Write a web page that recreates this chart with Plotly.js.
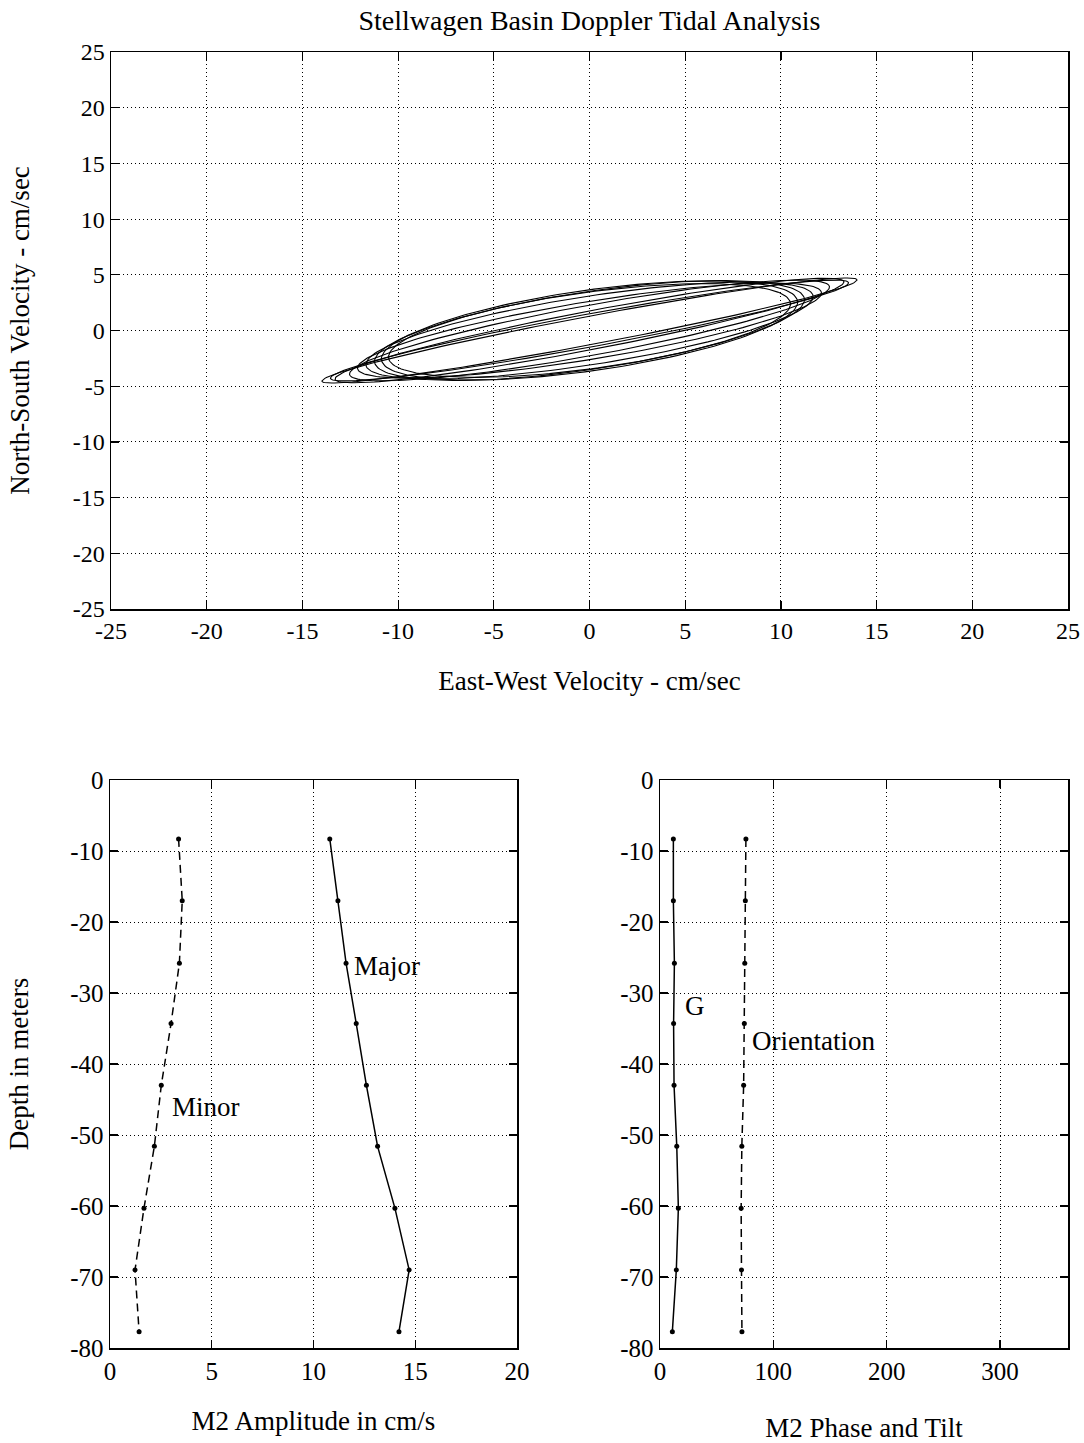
<!DOCTYPE html>
<html>
<head>
<meta charset="utf-8">
<script src="https://cdn.plot.ly/plotly-3.0.1.min.js"></script>
<style>html,body{margin:0;padding:0;background:#fff;}#chart{width:1084px;height:1443px;}</style>
</head>
<body>
<div id="chart"></div>
<script>
// ---- Data ----
const depth = [-8.3, -17.0, -25.8, -34.3, -43.0, -51.6, -60.3, -69.0, -77.7];   // m
const majorAmp = [10.8, 11.2, 11.6, 12.1, 12.6, 13.15, 14.0, 14.7, 14.2];       // cm/s
const minorAmp = [3.37, 3.55, 3.41, 3.0, 2.52, 2.18, 1.67, 1.23, 1.43];         // cm/s
const phaseG = [11.8, 11.8, 12.7, 12.0, 12.4, 14.8, 16.2, 14.4, 10.9];          // deg
const orientation = [75.8, 75.3, 74.8, 74.4, 73.8, 72.2, 71.6, 71.9, 72.3];    // deg from north

const velTicks = [-25, -20, -15, -10, -5, 0, 5, 10, 15, 20, 25];
const depthTicks = [0, -10, -20, -30, -40, -50, -60, -70, -80];
const ampTicks = [0, 5, 10, 15, 20];
const phaseTicks = [0, 100, 200, 300];

// ---- Tidal ellipse for each depth from major, minor, orientation ----
const NPTS = 180;
function ellipseTrace(M, m, orient) {
  const phi = (90 - orient) * Math.PI / 180;
  const xs = [], ys = [];
  for (let k = 0; k <= NPTS; k++) {
    const t = 2 * Math.PI * k / NPTS;
    const u = M * Math.cos(t), v = m * Math.sin(t);
    xs.push(u * Math.cos(phi) - v * Math.sin(phi));
    ys.push(u * Math.sin(phi) + v * Math.cos(phi));
  }
  return {x: xs, y: ys, xaxis: 'x', yaxis: 'y', mode: 'lines',
          line: {color: 'black', width: 1.1}, hoverinfo: 'skip', showlegend: false};
}

const traces = [];
for (let i = 0; i < depth.length; i++) traces.push(ellipseTrace(majorAmp[i], minorAmp[i], orientation[i]));

const mk = {size: 5, color: 'black'};
traces.push({x: majorAmp, y: depth, xaxis: 'x2', yaxis: 'y2', mode: 'lines+markers', name: 'Major',
  line: {color: 'black', width: 1.5}, marker: mk, showlegend: false});
traces.push({x: minorAmp, y: depth, xaxis: 'x2', yaxis: 'y2', mode: 'lines+markers', name: 'Minor',
  line: {color: 'black', width: 1.5, dash: '8px,5px'}, marker: mk, showlegend: false});
traces.push({x: phaseG, y: depth, xaxis: 'x3', yaxis: 'y3', mode: 'lines+markers', name: 'G',
  line: {color: 'black', width: 1.5}, marker: mk, showlegend: false});
traces.push({x: orientation, y: depth, xaxis: 'x3', yaxis: 'y3', mode: 'lines+markers', name: 'Orientation',
  line: {color: 'black', width: 1.5, dash: '8px,5px'}, marker: mk, showlegend: false});

const W = 1084, H = 1443;
const serif = 'Liberation Serif, Times New Roman, serif';
function ax(ticks, size, extra) {
  return Object.assign({
    showline: true, linecolor: 'black', linewidth: 1.5, mirror: 'ticks',
    ticks: 'inside', ticklen: 8, tickcolor: 'black', tickwidth: 1.2,
    showgrid: true, gridcolor: 'black', griddash: '1px,3px', gridwidth: 1,
    zeroline: false, tickmode: 'array', tickvals: ticks, ticktext: ticks.map(String),
    tickfont: {family: serif, size: size, color: 'black'}
  }, extra);
}
const titleFont = {family: serif, size: 27, color: 'black'};
const noteFont = {family: serif, size: 27, color: 'black'};

const layout = {
  width: W, height: H,
  margin: {l: 0, r: 0, t: 0, b: 0},
  paper_bgcolor: 'white', plot_bgcolor: 'white',
  showlegend: false,
  title: {text: 'Stellwagen Basin Doppler Tidal Analysis', font: {family: serif, size: 28, color: 'black'},
          x: 589.5 / W, xanchor: 'center', y: 1 - 20 / H, yanchor: 'middle', xref: 'paper', yref: 'paper'},
  xaxis: ax(velTicks, 24, {domain: [111 / W, 1068 / W], anchor: 'y', range: [-25, 25],
    title: {text: 'East-West Velocity - cm/sec', font: titleFont, standoff: 28}}),
  yaxis: ax(velTicks, 24, {domain: [1 - 609 / H, 1 - 52 / H], anchor: 'x', range: [-25, 25],
    title: {text: 'North-South Velocity - cm/sec', font: titleFont, standoff: 35}}),
  xaxis2: ax(ampTicks, 25, {domain: [110 / W, 517 / W], anchor: 'y2', range: [0, 20],
    title: {text: 'M2 Amplitude in cm/s', font: titleFont, standoff: 27}}),
  yaxis2: ax(depthTicks, 25, {domain: [1 - 1348 / H, 1 - 780 / H], anchor: 'x2', range: [-80, 0],
    title: {text: 'Depth in meters', font: titleFont, standoff: 33}}),
  xaxis3: ax(phaseTicks, 25, {domain: [660 / W, 1068 / W], anchor: 'y3', range: [0, 360],
    title: {text: 'M2 Phase and Tilt', font: titleFont, standoff: 35}}),
  yaxis3: ax(depthTicks, 25, {domain: [1 - 1348 / H, 1 - 780 / H], anchor: 'x3', range: [-80, 0]}),
  annotations: [
    {text: 'Major', x: 11.9, y: -26.2, xref: 'x2', yref: 'y2', xanchor: 'left', yanchor: 'middle', showarrow: false, font: noteFont},
    {text: 'Minor', x: 2.95, y: -46.1, xref: 'x2', yref: 'y2', xanchor: 'left', yanchor: 'middle', showarrow: false, font: noteFont},
    {text: 'G', x: 20, y: -31.8, xref: 'x3', yref: 'y3', xanchor: 'left', yanchor: 'middle', showarrow: false, font: noteFont},
    {text: 'Orientation', x: 79, y: -36.7, xref: 'x3', yref: 'y3', xanchor: 'left', yanchor: 'middle', showarrow: false, font: noteFont}
  ]
};

Plotly.newPlot('chart', traces, layout, {staticPlot: true, displayModeBar: false});
</script>
</body>
</html>
